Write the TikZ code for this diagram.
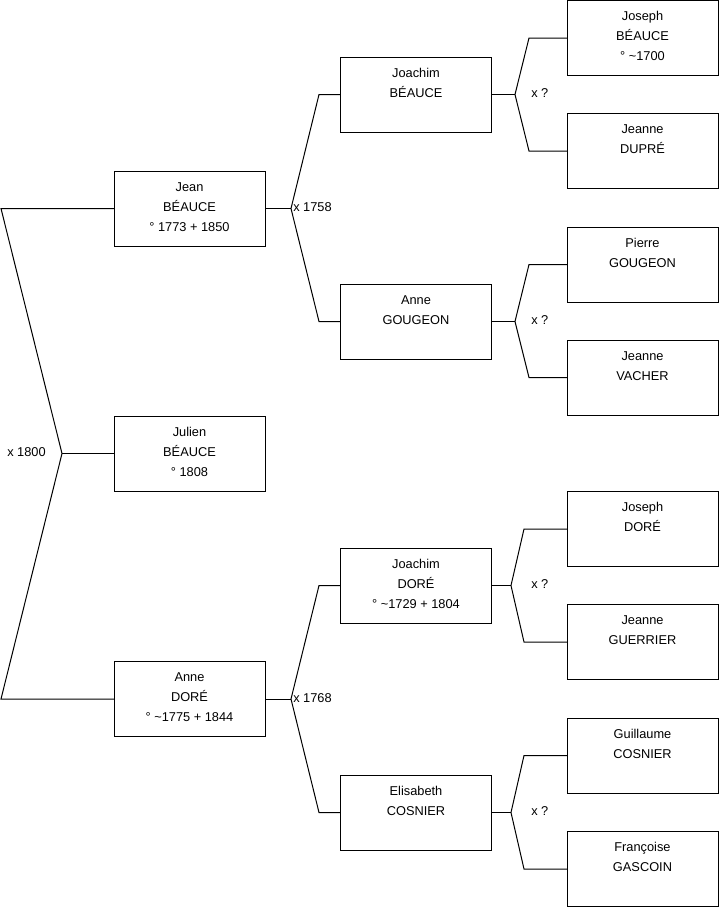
\documentclass[tikz,border=0pt]{standalone}
\usepackage{fontspec}
\setmainfont{Liberation Sans}
\newcommand\pbx[1]{\parbox[t][56.25pt][t]{113.25pt}{\centering\fontsize{9.6}{15}\selectfont\rule{0pt}{15.2pt}#1}}
\tikzset{
  person/.style={draw=black, line width=0.75pt, fill=white, inner sep=0pt, outer sep=0pt,
    minimum width=113.25pt, minimum height=56.25pt, anchor=center},
  link/.style={draw=black, line width=0.75pt},
  mlabel/.style={inner sep=0pt, anchor=west, font=\fontsize{9.6}{11}\selectfont}
}
\begin{document}
\begin{tikzpicture}[x=0.75pt, y=-0.75pt]
\useasboundingbox (0,0) rectangle (719,908);
% left column
\node[person] (jean)   at (189.5,208.5) {\pbx{Jean\\BÉAUCE\\° 1773 + 1850}};
\node[person] (julien) at (189.5,453.5) {\pbx{Julien\\BÉAUCE\\° 1808}};
\node[person] (anned)  at (189.5,699)   {\pbx{Anne\\DORÉ\\° \textasciitilde1775 + 1844}};
% middle column
\node[person] (joachimb) at (416,94.5)  {\pbx{Joachim\\BÉAUCE}};
\node[person] (anneg)    at (416,321.5) {\pbx{Anne\\GOUGEON}};
\node[person] (joachimd) at (416,585.5) {\pbx{Joachim\\DORÉ\\° \textasciitilde1729 + 1804}};
\node[person] (elisab)   at (416,812.5) {\pbx{Elisabeth\\COSNIER}};
% right column
\node[person] (josephb)  at (642.5,38)    {\pbx{Joseph\\BÉAUCE\\° \textasciitilde1700}};
\node[person] (jeanned)  at (642.5,151)   {\pbx{Jeanne\\DUPRÉ}};
\node[person] (pierreg)  at (642.5,264.5) {\pbx{Pierre\\GOUGEON}};
\node[person] (jeannev)  at (642.5,377.5) {\pbx{Jeanne\\VACHER}};
\node[person] (josephd)  at (642.5,529)   {\pbx{Joseph\\DORÉ}};
\node[person] (jeanneg)  at (642.5,642)   {\pbx{Jeanne\\GUERRIER}};
\node[person] (guillc)   at (642.5,755.5) {\pbx{Guillaume\\COSNIER}};
\node[person] (francg)   at (642.5,869)   {\pbx{Françoise\\GASCOIN}};
% fork points
\coordinate (l0a) at (1,208.5);
\coordinate (l0b) at (1,699);
\coordinate (f0)  at (62,453.5);
\coordinate (f1)  at (291,208.5);
\coordinate (t1a) at (319,94.5);
\coordinate (t1b) at (319,321.5);
\coordinate (f2)  at (291,699);
\coordinate (t2a) at (319,585.5);
\coordinate (t2b) at (319,812.5);
\coordinate (f3)  at (515,94.5);
\coordinate (t3a) at (529,38);
\coordinate (t3b) at (529,151);
\coordinate (f4)  at (515,321.5);
\coordinate (t4a) at (529,264.5);
\coordinate (t4b) at (529,377.5);
\coordinate (f5)  at (511,585.5);
\coordinate (t5a) at (524,529);
\coordinate (t5b) at (524,642);
\coordinate (f6)  at (511,812.5);
\coordinate (t6a) at (524,755.5);
\coordinate (t6b) at (524,869);
% connectors
\draw[link] (jean.west) -- (l0a) -- (f0) -- (l0b) -- (anned.west);
\draw[link] (f0) -- (julien.west);
\draw[link] (jean.east) -- (f1);
\draw[link] (joachimb.west) -- (t1a) -- (f1) -- (t1b) -- (anneg.west);
\draw[link] (anned.east) -- (f2);
\draw[link] (joachimd.west) -- (t2a) -- (f2) -- (t2b) -- (elisab.west);
\draw[link] (joachimb.east) -- (f3);
\draw[link] (josephb.west) -- (t3a) -- (f3) -- (t3b) -- (jeanned.west);
\draw[link] (anneg.east) -- (f4);
\draw[link] (pierreg.west) -- (t4a) -- (f4) -- (t4b) -- (jeannev.west);
\draw[link] (joachimd.east) -- (f5);
\draw[link] (josephd.west) -- (t5a) -- (f5) -- (t5b) -- (jeanneg.west);
\draw[link] (elisab.east) -- (f6);
\draw[link] (guillc.west) -- (t6a) -- (f6) -- (t6b) -- (francg.west);
% marriage labels
\node[mlabel] (m0) at (7,452) {x 1800};
\node[mlabel] (m1) at (293,207.5) {x 1758};
\node[mlabel] (m2) at (293,698) {x 1768};
\node[mlabel] (m3) at (531,93) {x ?};
\node[mlabel] (m4) at (531,320) {x ?};
\node[mlabel] (m5) at (531,584) {x ?};
\node[mlabel] (m6) at (531,811) {x ?};
\end{tikzpicture}
\end{document}
